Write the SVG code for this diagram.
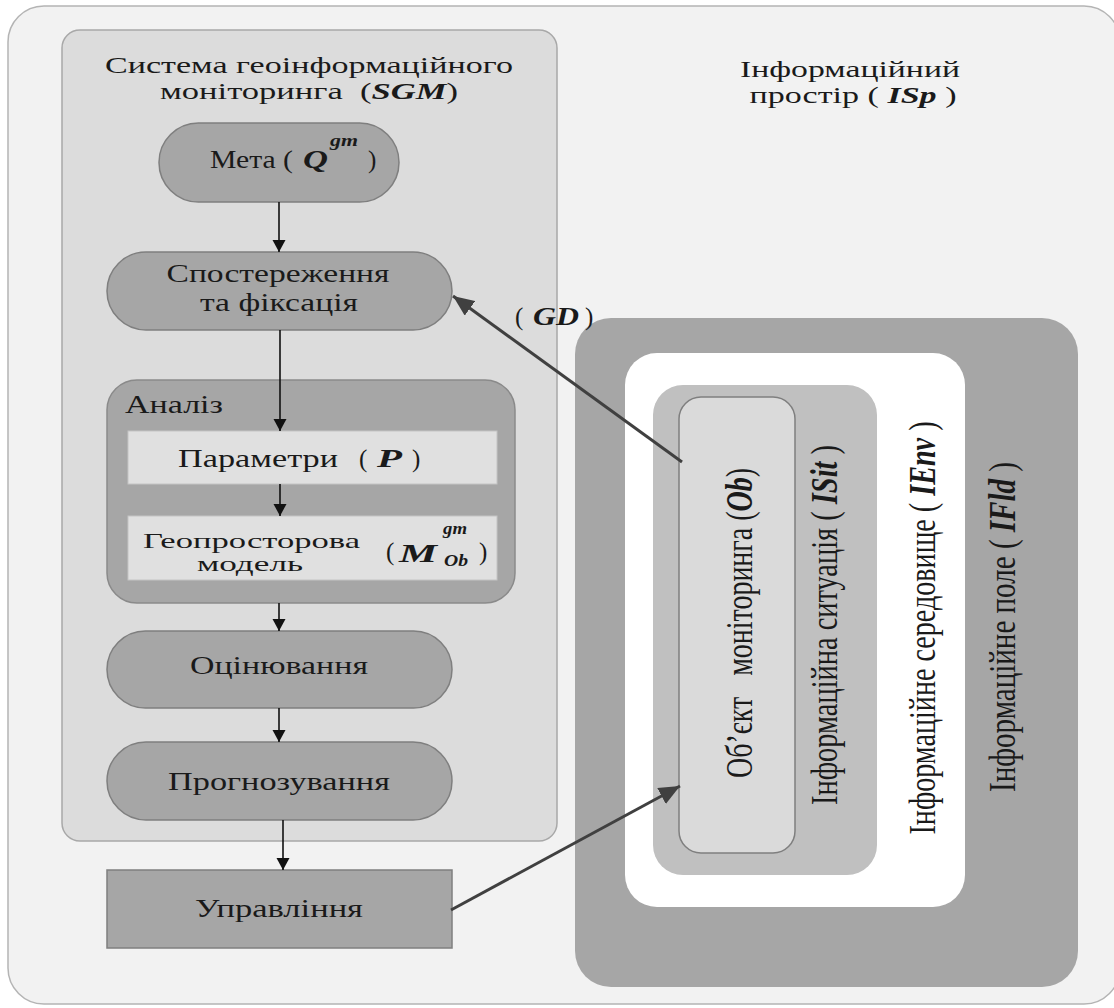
<svg xmlns="http://www.w3.org/2000/svg" width="1114" height="1008" viewBox="0 0 1114 1008">
<defs>
<style>
text{font-family:"Liberation Serif","Times New Roman",serif;fill:#1a1a1a;font-size:25px;white-space:pre}
.t{font-size:23px}
.bi{font-weight:bold;font-style:italic}
.sm{font-size:17px}
.md{font-size:22px}
.v{font-size:37px}
.proc{fill:#a6a6a6;stroke:#7f7f7f;stroke-width:1.5}
.inner{fill:#e0e0e0;stroke:#c4c4c4;stroke-width:1}
.blk{stroke:#111;stroke-width:1.6;fill:none}
.gry{stroke:#404040;stroke-width:3;fill:none}
</style>
<marker id="ab" markerUnits="userSpaceOnUse" markerWidth="13" markerHeight="14" refX="12" refY="7" orient="auto">
<path d="M0,0.5 L12,7 L0,13.5 z" fill="#111"/>
</marker>
<marker id="ag" markerUnits="userSpaceOnUse" markerWidth="22" markerHeight="18" refX="21" refY="9" orient="auto">
<path d="M0,0 L21,9 L0,18 z" fill="#404040"/>
</marker>
</defs>
<rect width="1114" height="1008" fill="#ffffff"/>
<g id="isp">
<rect x="8" y="6" width="1112" height="998" rx="36" fill="#f2f2f2" stroke="#b4b4b4" stroke-width="1.5"/>
<text class="t" x="850" y="77" text-anchor="middle" textLength="220" lengthAdjust="spacingAndGlyphs">Інформаційний</text>
<text class="t" x="853" y="103" text-anchor="middle" textLength="207" lengthAdjust="spacingAndGlyphs">простір ( <tspan class="bi">ISp</tspan> )</text>
</g>
<g id="sgm">
<rect x="62" y="30" width="495" height="811" rx="18" fill="#dcdcdc" stroke="#a8a8a8" stroke-width="1.5"/>
<text class="t" x="309" y="73" text-anchor="middle" textLength="408" lengthAdjust="spacingAndGlyphs">Система геоінформаційного</text>
<text class="t" x="309" y="99" text-anchor="middle" textLength="298" lengthAdjust="spacingAndGlyphs">моніторинга  (<tspan class="bi">SGM</tspan>)</text>
</g>
<g id="meta">
<rect class="proc" x="159" y="123" width="240" height="79" rx="39.5"/>
<text x="210" y="168" textLength="83" lengthAdjust="spacingAndGlyphs">Мета (</text>
<text class="bi" x="303" y="168" textLength="25" lengthAdjust="spacingAndGlyphs">Q</text>
<text class="bi sm" x="330" y="146" textLength="28" lengthAdjust="spacingAndGlyphs">gm</text>
<text x="368" y="168">)</text>
</g>
<g id="sposterezhennia">
<rect class="proc" x="107" y="252" width="345" height="78" rx="39"/>
<text x="278" y="282" text-anchor="middle" textLength="223" lengthAdjust="spacingAndGlyphs">Спостереження</text>
<text x="279" y="311" text-anchor="middle" textLength="158" lengthAdjust="spacingAndGlyphs">та фіксація</text>
</g>
<g id="analiz">
<rect x="107" y="380" width="408" height="223" rx="30" fill="#a6a6a6" stroke="#8a8a8a" stroke-width="1.5"/>
<text x="125" y="413" textLength="98" lengthAdjust="spacingAndGlyphs">Аналіз</text>
</g>
<g id="parametry">
<rect class="inner" x="128" y="431" width="369" height="53"/>
<text x="178" y="467" textLength="160" lengthAdjust="spacingAndGlyphs">Параметри</text>
<text x="359" y="467">(</text>
<text class="bi" x="377" y="467" textLength="25" lengthAdjust="spacingAndGlyphs">P</text>
<text x="412" y="467">)</text>
</g>
<g id="model">
<rect class="inner" x="128" y="516" width="369" height="64"/>
<text class="md" x="143" y="548" textLength="217" lengthAdjust="spacingAndGlyphs">Геопросторова</text>
<text class="md" x="197" y="571" textLength="106" lengthAdjust="spacingAndGlyphs">модель</text>
<text x="386" y="560">(</text>
<text class="bi" x="399" y="562" textLength="38" lengthAdjust="spacingAndGlyphs">M</text>
<text class="bi sm" x="443" y="534" textLength="24" lengthAdjust="spacingAndGlyphs">gm</text>
<text class="bi sm" x="444" y="566" textLength="24" lengthAdjust="spacingAndGlyphs">Ob</text>
<text x="479" y="560">)</text>
</g>
<g id="otsiniuvannia">
<rect class="proc" x="107" y="631" width="345" height="77" rx="38.5"/>
<text x="279" y="674" text-anchor="middle" textLength="178" lengthAdjust="spacingAndGlyphs">Оцінювання</text>
</g>
<g id="prohnozuvannia">
<rect class="proc" x="107" y="742" width="345" height="78" rx="39"/>
<text x="279" y="790" text-anchor="middle" textLength="222" lengthAdjust="spacingAndGlyphs">Прогнозування</text>
</g>
<g id="upravlinnia">
<rect class="proc" x="107" y="870" width="345" height="78"/>
<text x="279" y="917" text-anchor="middle" textLength="168" lengthAdjust="spacingAndGlyphs">Управління</text>
</g>
<g id="ifld">
<rect x="575" y="318" width="503" height="669" rx="36" fill="#a6a6a6"/>
<text class="v" transform="translate(1015,627) rotate(-90)" text-anchor="middle" textLength="330" lengthAdjust="spacingAndGlyphs">Інформаційне поле ( <tspan class="bi">IFld</tspan> )</text>
</g>
<g id="ienv">
<rect x="625" y="353" width="340" height="554" rx="32" fill="#ffffff"/>
<text class="v" transform="translate(935,628) rotate(-90)" text-anchor="middle" textLength="413" lengthAdjust="spacingAndGlyphs">Інформаційне середовище ( <tspan class="bi">IEnv</tspan> )</text>
</g>
<g id="isit">
<rect x="653" y="385" width="224" height="490" rx="30" fill="#c0c0c0"/>
<text class="v" transform="translate(837,625) rotate(-90)" text-anchor="middle" textLength="360" lengthAdjust="spacingAndGlyphs">Інформаційна ситуація ( <tspan class="bi">ISit</tspan> )</text>
</g>
<g id="ob">
<rect x="679" y="397" width="116" height="456" rx="22" fill="#dadada" stroke="#7f7f7f" stroke-width="1.5"/>
<text class="v" transform="translate(752,623) rotate(-90)" text-anchor="middle" textLength="310" lengthAdjust="spacingAndGlyphs">Об’єкт   моніторинга (<tspan class="bi">Ob</tspan>)</text>
</g>
<g id="connectors">
<line class="blk" x1="279" y1="202" x2="279" y2="252" marker-end="url(#ab)"/>
<line class="blk" x1="280" y1="330" x2="280" y2="431" marker-end="url(#ab)"/>
<line class="blk" x1="280" y1="484" x2="280" y2="516" marker-end="url(#ab)"/>
<line class="blk" x1="279" y1="603" x2="279" y2="631" marker-end="url(#ab)"/>
<line class="blk" x1="279" y1="708" x2="279" y2="742" marker-end="url(#ab)"/>
<line class="blk" x1="283" y1="820" x2="283" y2="870" marker-end="url(#ab)"/>
<line class="gry" x1="682" y1="462" x2="453" y2="296" marker-end="url(#ag)"/>
<line class="gry" x1="451" y1="910" x2="680" y2="786" marker-end="url(#ag)"/>
<text x="515" y="325">(</text>
<text class="bi" x="533" y="325" textLength="46" lengthAdjust="spacingAndGlyphs">GD</text>
<text x="585" y="325">)</text>
</g>
</svg>
